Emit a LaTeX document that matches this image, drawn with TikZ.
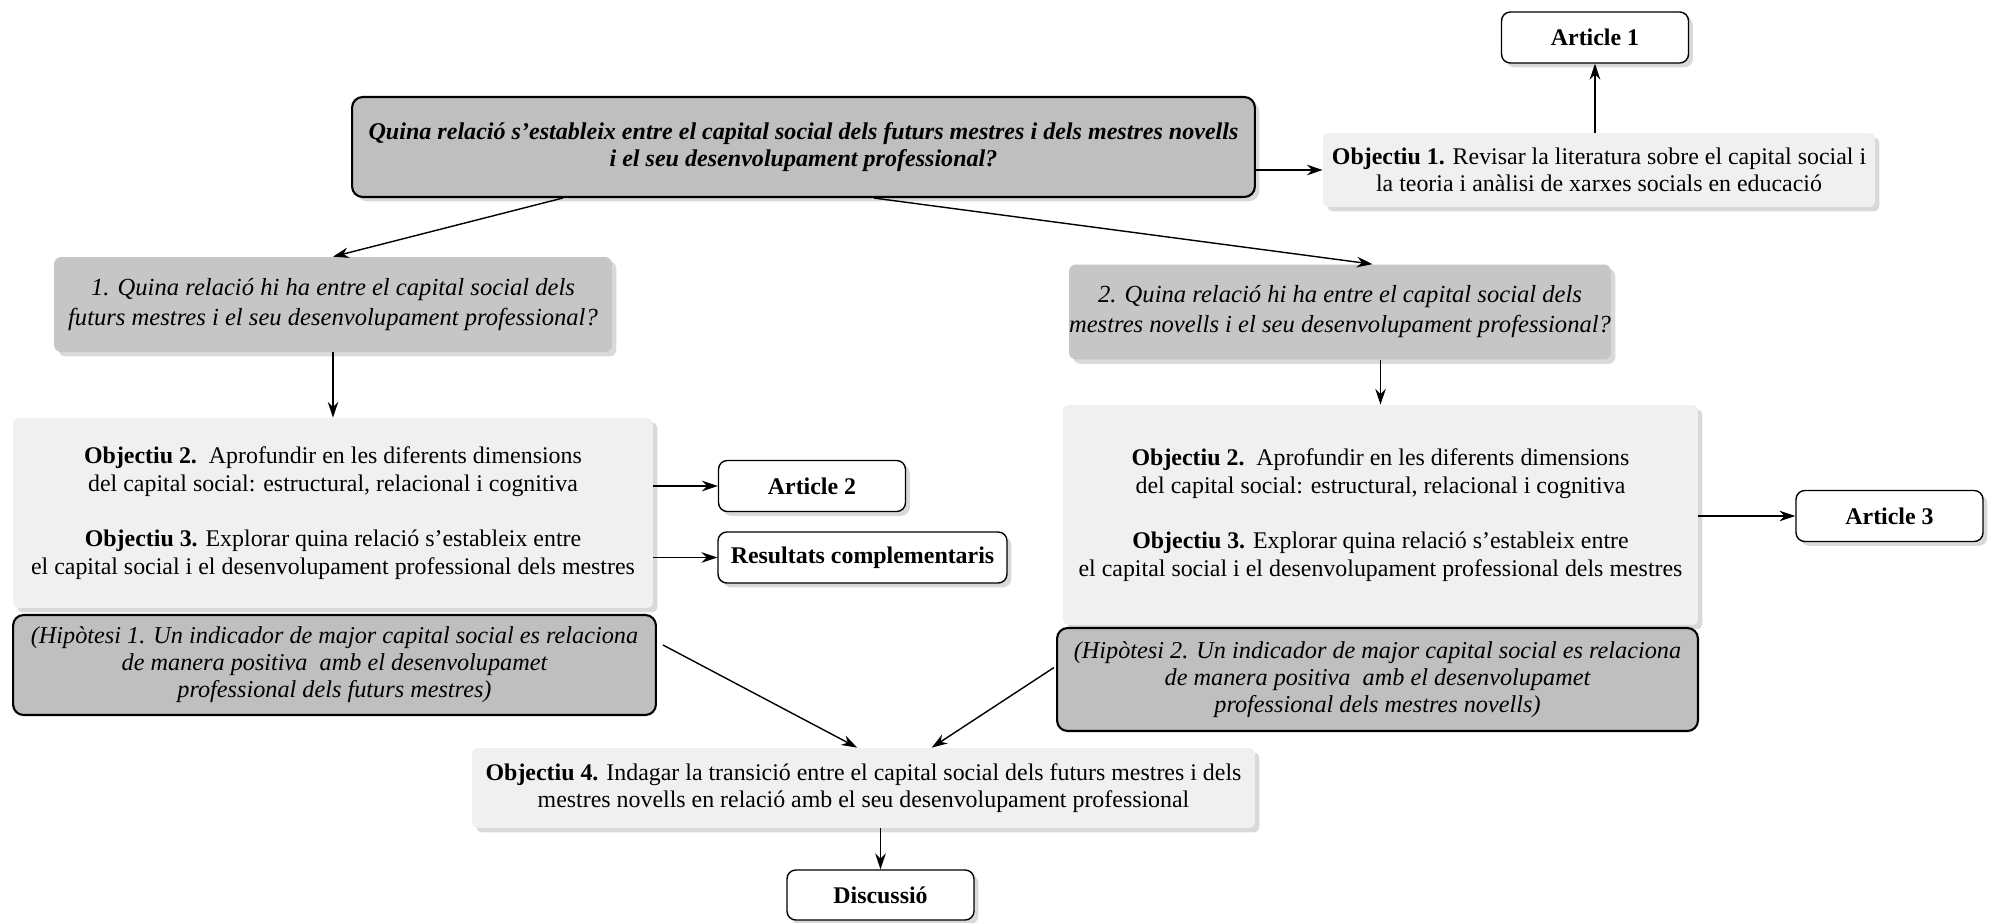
\documentclass[tikz,border=0pt]{standalone}
\usepackage{fontspec}
\setmainfont{Liberation Serif}
\usetikzlibrary{positioning, calc, shadows, arrows.meta}

\begin{document}
\begin{tikzpicture}[
    x=0.02cm, y=-0.02cm,
    every node/.style={font=\fontsize{13.6}{15.6}\selectfont, align=center, inner sep=0pt},
    shadowed/.style={drop shadow={shadow xshift=2.5pt, shadow yshift=-2.5pt, opacity=0.3}},
    question/.style={rectangle, rounded corners=6pt, draw, line width=1.2pt, fill=gray!50, shadowed, font=\fontsize{13.7}{15.4}\selectfont\bfseries\itshape},
    subquestion/.style={rectangle, rounded corners=4pt, fill=gray!45, shadowed, font=\fontsize{14}{17}\selectfont\itshape},
    objective/.style={rectangle, rounded corners=3pt, fill=gray!12, shadowed},
    hypothesis/.style={rectangle, rounded corners=6pt, draw, line width=1.2pt, fill=gray!50, font=\fontsize{13.8}{15.4}\selectfont\itshape},
    output/.style={rectangle, rounded corners=5pt, draw, line width=0.8pt, fill=white, shadowed, minimum width=3.74cm, minimum height=1.02cm, font=\fontsize{13.6}{15.6}\selectfont\bfseries},
    arrow/.style={-{Stealth[length=9pt, width=6pt]}, line width=0.8pt}
]
    \useasboundingbox (0,0) rectangle (1992,923);

    \node[question, minimum width=18.06cm, minimum height=2cm] (main) at (803.5,147) {Quina relació s'estableix entre el capital social dels futurs mestres i dels mestres novells \\ i el seu desenvolupament professional?};
    \node[objective, minimum width=11.04cm, minimum height=1.48cm] (obj1) at (1599,170) {\textbf{Objectiu 1.} Revisar la literatura sobre el capital social i \\ la teoria i anàlisi de xarxes socials en educació};
    \node[output] (art1) at (1595,37.5) {Article 1};

    \node[subquestion, minimum width=11.16cm, minimum height=1.9cm] (q1) at (333,304.5) {1. Quina relació hi ha entre el capital social dels \\ futurs mestres i el seu desenvolupament professional?};
    \node[subquestion, minimum width=10.28cm, minimum height=1.9cm] (q2) at (1340,312) {2. Quina relació hi ha entre el capital social dels \\ mestres novells i el seu desenvolupament professional?};

    \node[objective, minimum width=12.8cm, minimum height=3.8cm] (lobj) at (333,513) {\textbf{Objectiu 2.}\ \ Aprofundir en les diferents dimensions \\ del capital social: estructural, relacional i cognitiva \\[16pt] \textbf{Objectiu 3.} Explorar quina relació s’estableix entre \\ el capital social i el desenvolupament professional dels mestres};
    \node[output] (art2) at (812,486) {Article 2};
    \node[output, minimum width=5.78cm] (res) at (862.5,557.5) {Resultats complementaris};
    \node[hypothesis, minimum width=12.86cm, minimum height=2cm] (hyp1) at (334.5,665) {(Hipòtesi 1. Un indicador de major capital social es relaciona \\ de manera positiva\ \ amb el desenvolupamet \\ professional dels futurs mestres)};

    \node[objective, minimum width=12.7cm, minimum height=4.4cm] (robj) at (1380.5,515) {\textbf{Objectiu 2.}\ \ Aprofundir en les diferents dimensions \\ del capital social: estructural, relacional i cognitiva \\[16pt] \textbf{Objectiu 3.} Explorar quina relació s’estableix entre \\ el capital social i el desenvolupament professional dels mestres};
    \node[output] (art3) at (1889.5,516) {Article 3};
    \node[hypothesis, minimum width=12.82cm, minimum height=2.06cm] (hyp2) at (1377.5,679.5) {(Hipòtesi 2. Un indicador de major capital social es relaciona \\ de manera positiva\ \ amb el desenvolupamet \\ professional dels mestres novells)};

    \node[objective, minimum width=15.66cm, minimum height=1.6cm] (obj4) at (863.5,788) {\textbf{Objectiu 4.} Indagar la transició entre el capital social dels futurs mestres i dels \\ mestres novells en relació amb el seu desenvolupament professional};
    \node[output, minimum height=1cm] (disc) at (880.5,895) {Discussió};

    \draw[arrow] (main.east |- obj1.west) -- (obj1.west);
    \draw[arrow] (obj1.north -| art1.south) -- (art1.south);
    \draw[arrow] ($(main.south west)!0.234!(main.south east)$) -- (q1.north);
    \draw[arrow] ($(main.south west)!0.578!(main.south east)$) -- ($(q2.north west)!0.56!(q2.north east)$);
    \draw[arrow] (q1.south) -- (lobj.north);
    \draw[arrow] (q2.south -| robj.north) -- (robj.north);
    \draw[arrow] (lobj.east |- art2.west) -- (art2.west);
    \draw[arrow] (lobj.east |- res.west) -- (res.west);
    \draw[arrow] (robj.east |- art3.west) -- (art3.west);
    \draw[arrow] ($(hyp1.east)+(6,-20)$) -- ($(obj4.north west)!0.492!(obj4.north east)$);
    \draw[arrow] ($(hyp2.west)+(-2,-12)$) -- ($(obj4.north west)!0.587!(obj4.north east)$);
    \draw[arrow] (obj4.south -| disc.north) -- (disc.north);
\end{tikzpicture}
\end{document}
